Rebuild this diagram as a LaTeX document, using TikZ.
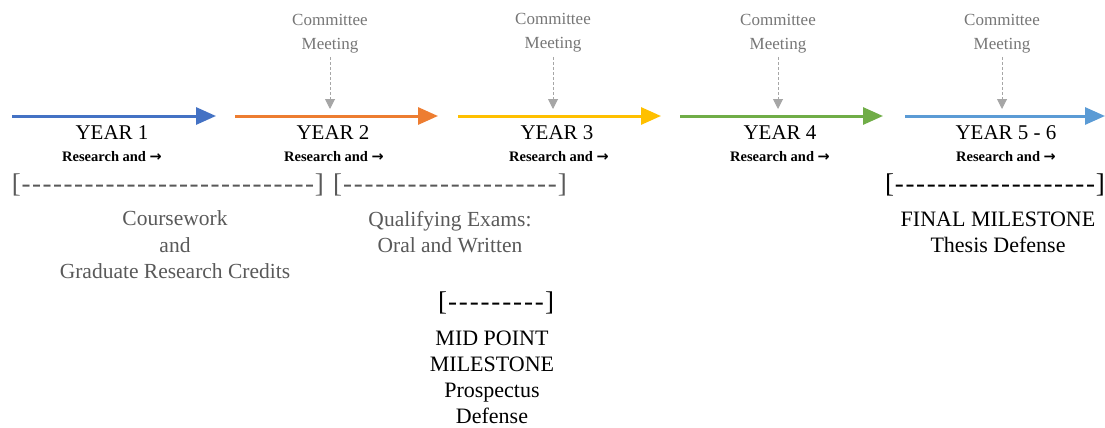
\documentclass[tikz,border=0pt]{standalone}
\usepackage{fontspec}
\setmainfont{Liberation Serif}
\newfontfamily\symfont{DejaVu Sans}
\usetikzlibrary{arrows.meta}
\definecolor{cBlue}{HTML}{4472C4}
\definecolor{cOrange}{HTML}{ED7D31}
\definecolor{cYellow}{HTML}{FFC000}
\definecolor{cGreen}{HTML}{70AD47}
\definecolor{cLBlue}{HTML}{5B9BD5}
\definecolor{cGrayTxt}{HTML}{595959}
\definecolor{cMeet}{HTML}{767676}
\definecolor{cGrayArr}{HTML}{A6A6A6}
\newcommand{\brk}[1]{\makebox[#1]{[\xleaders\hbox to 10.5pt{\hss-\hss}\hfill]}}
\newcommand{\resarr}{Research and {\symfont\bfseries →}}
\tikzset{
  x=1pt, y=-1pt,
  yeararrow/.style={line width=3pt, -{Triangle[length=20pt,width=17pt]}},
  meettext/.style={font=\fontsize{17}{24}\selectfont, text=cMeet, align=center, inner sep=0pt},
  meetarrow/.style={cGrayArr, line width=1pt, dashed, dash pattern=on 3pt off 2pt, -{Triangle[length=10pt,width=10pt]}},
  yeartext/.style={font=\fontsize{21}{24}\selectfont, inner sep=0pt},
  restext/.style={font=\bfseries\fontsize{14.5}{16}\selectfont, inner sep=0pt},
  brtext/.style={font=\fontsize{27}{30}\selectfont, inner sep=0pt},
  graytext/.style={font=\fontsize{21.5}{26.5}\selectfont, text=cGrayTxt, align=center, inner sep=0pt},
  blacktext/.style={font=\fontsize{22}{26}\selectfont, align=center, inner sep=0pt},
}
\begin{document}
\begin{tikzpicture}
\useasboundingbox (0,0) rectangle (1105,428);
% year arrows
\coordinate (a1s) at (12,116); \coordinate (a1e) at (216,116);
\coordinate (a2s) at (235,116); \coordinate (a2e) at (438,116);
\coordinate (a3s) at (458,116); \coordinate (a3e) at (661,116);
\coordinate (a4s) at (680,116); \coordinate (a4e) at (883,116);
\coordinate (a5s) at (905,116); \coordinate (a5e) at (1105,116);
\draw[yeararrow, cBlue] (a1s) -- (a1e);
\draw[yeararrow, cOrange] (a2s) -- (a2e);
\draw[yeararrow, cYellow] (a3s) -- (a3e);
\draw[yeararrow, cGreen] (a4s) -- (a4e);
\draw[yeararrow, cLBlue] (a5s) -- (a5e);
% committee meetings
\node[meettext] (m2) at (330,34) {Committee\\Meeting};
\node[meettext] (m3) at (553,33) {Committee\\Meeting};
\node[meettext] (m4) at (778,34) {Committee\\Meeting};
\node[meettext] (m5) at (1002,34) {Committee\\Meeting};
\coordinate (t2) at (330,109);
\coordinate (t3) at (553,109);
\coordinate (t4) at (778,109);
\coordinate (t5) at (1002,109);
\draw[meetarrow] (m2.south |- 0,57) -- (t2);
\draw[meetarrow] (m3.south |- 0,57) -- (t3);
\draw[meetarrow] (m4.south |- 0,57) -- (t4);
\draw[meetarrow] (m5.south |- 0,57) -- (t5);
% year labels
\node[yeartext] (y1) at (112,133) {YEAR 1};
\node[yeartext] (y2) at (333,133) {YEAR 2};
\node[yeartext] (y3) at (557,133) {YEAR 3};
\node[yeartext] (y4) at (780,133) {YEAR 4};
\node[yeartext] (y5) at (1006,133) {YEAR 5 - 6};
\node[restext] (r1) at (112,157) {\resarr};
\node[restext] (r2) at (334,157) {\resarr};
\node[restext] (r3) at (559,157) {\resarr};
\node[restext] (r4) at (780,157) {\resarr};
\node[restext] (r5) at (1006,157) {\resarr};
% brackets
\node[brtext, text=cGrayTxt] (b1) at (168,185) {\brk{312pt}};
\node[brtext, text=cGrayTxt] (b2) at (450,185) {\brk{234pt}};
\node[brtext] (b5) at (995,185) {\brk{220pt}};
\node[brtext] (bm) at (496,303) {\brk{116pt}};
% texts
\node[graytext] (c1) at (175,245) {Coursework\\and\\Graduate Research Credits};
\node[graytext] (c2) at (450,232) {Qualifying Exams:\\Oral and Written};
\node[blacktext] (f5) at (998,232) {FINAL MILESTONE\\Thesis Defense};
\node[blacktext, anchor=north] (mm) at (492,331) {MID POINT\\MILESTONE\\Prospectus\\Defense};
\end{tikzpicture}
\end{document}
